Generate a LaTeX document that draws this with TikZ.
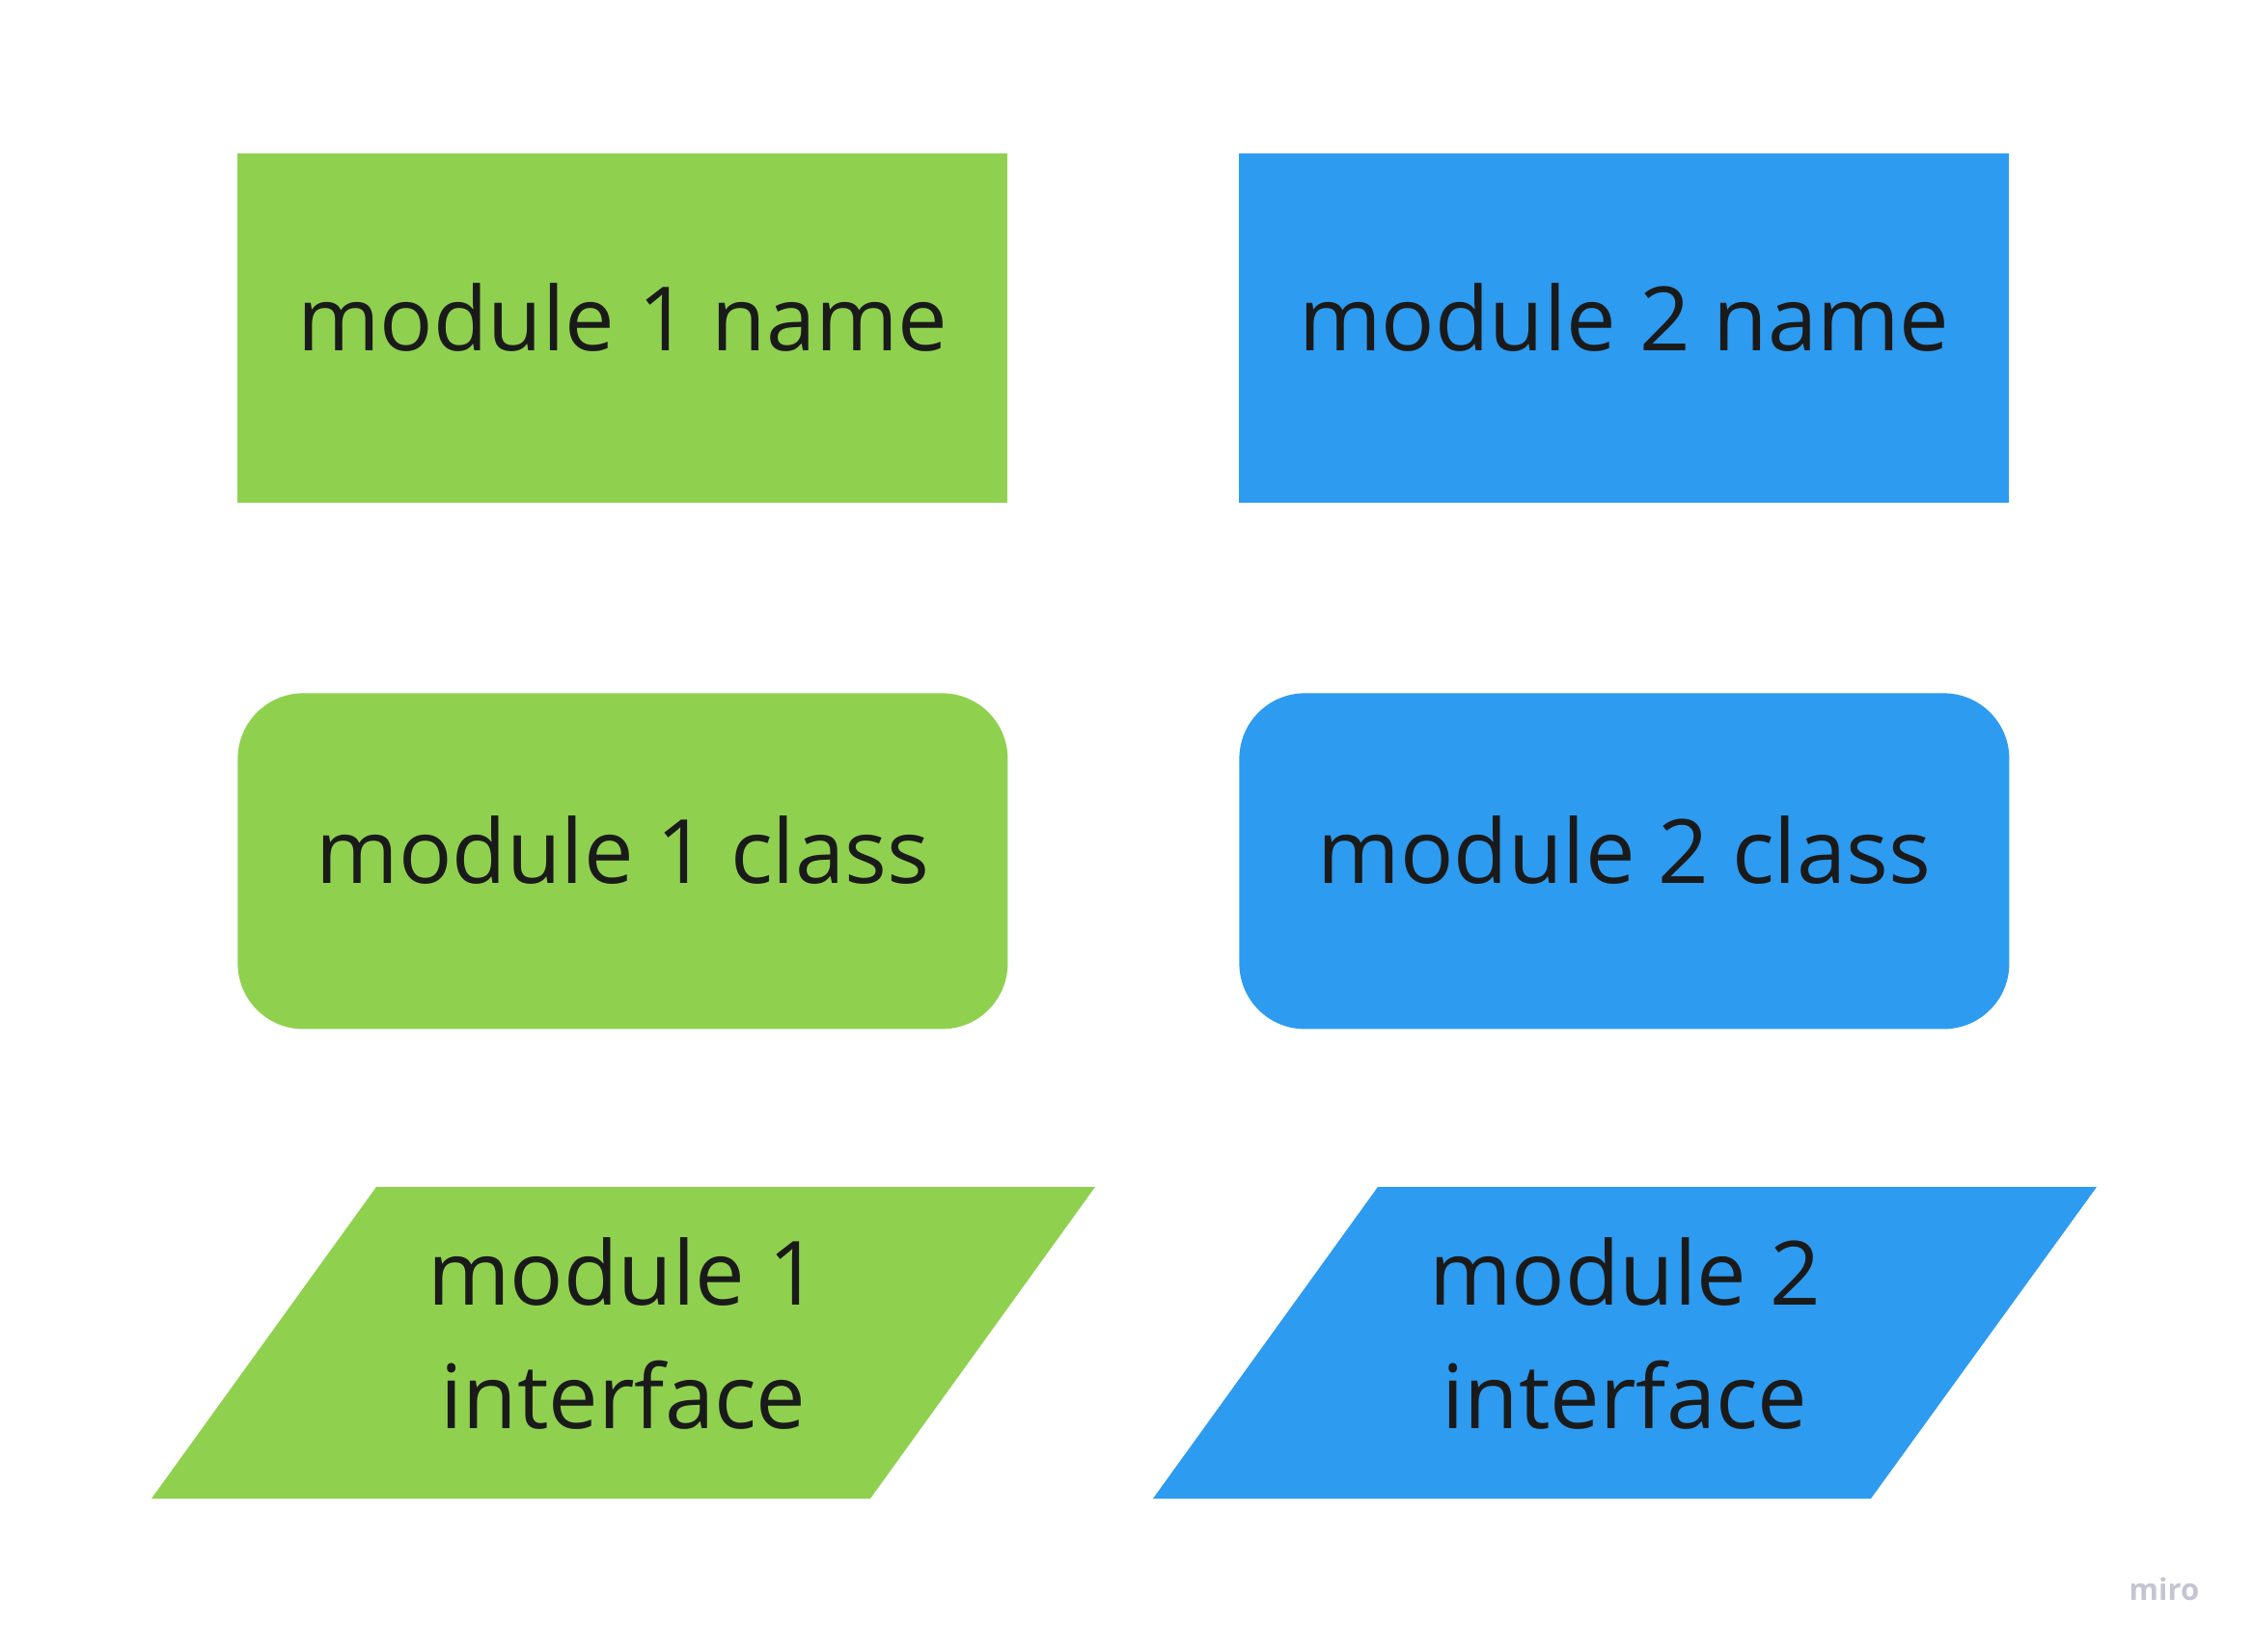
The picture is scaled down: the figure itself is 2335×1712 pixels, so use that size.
\documentclass[tikz,border=0pt]{standalone}
\usepackage{fontspec}
\setmainfont{Open Sans}
\definecolor{mgreen}{HTML}{8FD14F}
\definecolor{mblue}{HTML}{2D9BF0}
\definecolor{mtext}{HTML}{1A1A1A}
\definecolor{mlogo}{HTML}{C4C4D2}
\begin{document}
\begin{tikzpicture}[x=0.5pt,y=-0.5pt,
  lbl/.style={text=mtext,font=\fontsize{46}{64}\selectfont,align=center,inner sep=0pt},
  box/.style={minimum width=399pt,minimum height=181pt,inner sep=0pt,anchor=north west},
  rbox/.style={box,minimum height=174pt,rounded corners=34pt}]
\useasboundingbox[fill=white] (0,0) rectangle (2335,1712);
% row 1
\node[box,fill=mgreen] (n1) at (246,159) {};
\node[lbl] (t1) at ([yshift=5.5pt]n1.center) {module 1 name};
\node[box,fill=mblue] (n2) at (1284,159) {};
\node[lbl] (t2) at ([yshift=5.5pt]n2.center) {module 2 name};
% row 2
\node[rbox,fill=mgreen] (c1) at (246,718) {};
\node[lbl] (tc1) at ([yshift=5.5pt]c1.center) {module 1 class};
\node[rbox,fill=mblue] (c2) at (1284,718) {};
\node[lbl] (tc2) at ([yshift=5.5pt]c2.center) {module 2 class};
% row 3
\fill[mgreen] (390,1230) -- (1135,1230) -- (902,1553) -- (157,1553) -- cycle;
\node[lbl] (i1) at (646,1382) {module 1\\interface};
\fill[mblue] (1428,1230) -- (2173,1230) -- (1939,1553) -- (1195,1553) -- cycle;
\node[lbl] (i2) at (1684,1382) {module 2\\interface};
% logo
\node[text=mlogo,font=\fontsize{15.5}{18}\bfseries,inner sep=0pt] (logo) at (2243,1647) {miro};
\end{tikzpicture}
\end{document}
